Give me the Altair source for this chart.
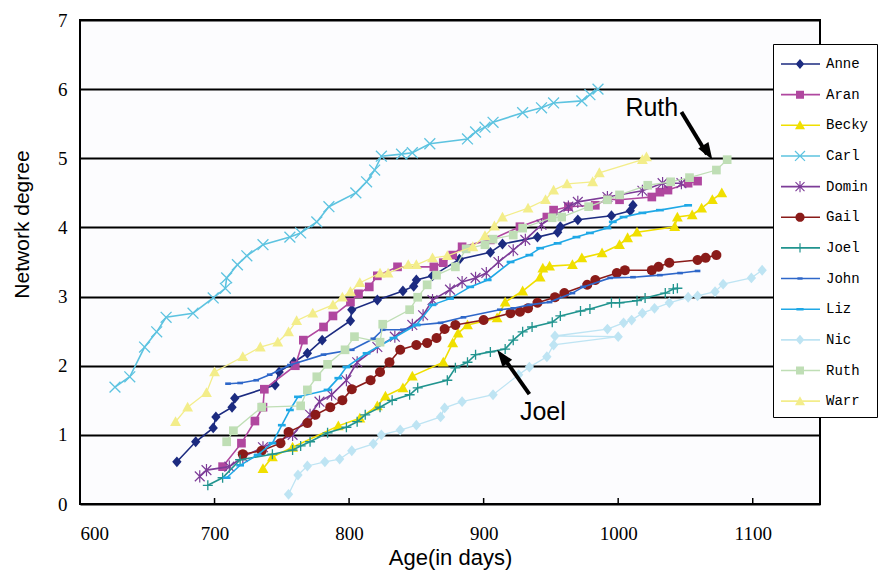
import math
import altair as alt
import pandas as pd

# ---------------- data ----------------
names = ["Anne", "Aran", "Becky", "Carl", "Domin", "Gail", "Joel", "John", "Liz", "Nic", "Ruth", "Warr"]
colors = ["#1C2B80", "#B0479F", "#F0DF00", "#5DC3E0", "#7D3C98", "#8A1B19",
          "#21948F", "#2E67C9", "#1FA8E6", "#BEE4F3", "#BFDEB5", "#F3ED8A"]

anne_x = [672, 686, 699, 701, 713, 715, 745, 748, 759, 769, 780, 801, 802, 821, 840, 848, 850, 862, 882, 905, 914, 940, 955, 957, 970, 995, 1009, 1011]
anne_y = [0.61, 0.90, 1.10, 1.26, 1.40, 1.53, 1.72, 1.91, 2.05, 2.18, 2.37, 2.65, 2.81, 2.95, 3.08, 3.15, 3.24, 3.30, 3.54, 3.64, 3.76, 3.86, 3.93, 4.01, 4.11, 4.17, 4.24, 4.32]

aran_x = [706, 720, 730, 736, 737, 760, 766, 781, 788, 801, 807, 815, 821, 836, 863, 870, 877, 884, 905, 927, 947, 952, 963, 983, 992, 1001, 1025, 1031, 1037, 1052, 1059]
aran_y = [0.54, 0.88, 1.20, 1.40, 1.66, 2.00, 2.37, 2.56, 2.72, 2.92, 3.04, 3.14, 3.30, 3.43, 3.43, 3.49, 3.60, 3.72, 3.82, 4.01, 4.15, 4.25, 4.30, 4.32, 4.41, 4.40, 4.44, 4.51, 4.54, 4.64, 4.67]

becky_x = [736, 743, 758, 792, 808, 821, 827, 840, 847, 870, 877, 881, 888, 910, 916, 929, 942, 944, 949, 966, 973, 988, 1001, 1007, 1014, 1042, 1044, 1055, 1062, 1070, 1077]
becky_y = [0.51, 0.68, 0.82, 1.13, 1.24, 1.42, 1.56, 1.68, 1.85, 2.05, 2.33, 2.47, 2.59, 2.69, 2.92, 3.08, 3.28, 3.41, 3.44, 3.46, 3.56, 3.63, 3.75, 3.85, 3.93, 4.01, 4.15, 4.18, 4.28, 4.40, 4.50]

carl_x = [626, 637, 648, 657, 664, 684, 699, 708, 709, 717, 724, 736, 756, 764, 776, 785, 805, 813, 819, 824, 839, 847, 860, 888, 894, 901, 907, 929, 943, 952, 973, 979, 985]
carl_y = [1.69, 1.84, 2.27, 2.49, 2.70, 2.76, 2.98, 3.12, 3.27, 3.46, 3.59, 3.75, 3.86, 3.92, 4.08, 4.30, 4.50, 4.66, 4.83, 5.03, 5.06, 5.08, 5.21, 5.28, 5.38, 5.45, 5.52, 5.66, 5.73, 5.80, 5.83, 5.92, 6.00]

domin_x = [689, 694, 711, 721, 736, 758, 771, 778, 787, 798, 806, 821, 834, 847, 855, 862, 875, 884, 894, 902, 911, 922, 931, 943, 963, 970, 992, 1018, 1033, 1047]
domin_y = [0.40, 0.49, 0.54, 0.68, 0.82, 1.00, 1.29, 1.48, 1.58, 1.79, 2.05, 2.27, 2.42, 2.59, 2.73, 2.95, 3.10, 3.21, 3.27, 3.34, 3.50, 3.67, 3.82, 4.04, 4.30, 4.37, 4.44, 4.53, 4.64, 4.64]

gail_x = [721, 735, 749, 755, 769, 775, 786, 795, 802, 816, 823, 830, 838, 850, 858, 865, 871, 879, 900, 920, 927, 933, 940, 953, 960, 977, 983, 999, 1005, 1025, 1030, 1038, 1059, 1065, 1073]
gail_y = [0.72, 0.77, 0.88, 1.04, 1.17, 1.29, 1.40, 1.50, 1.66, 1.79, 1.91, 2.05, 2.23, 2.30, 2.33, 2.40, 2.53, 2.59, 2.66, 2.76, 2.78, 2.83, 2.91, 2.99, 3.05, 3.17, 3.24, 3.34, 3.38, 3.38, 3.43, 3.49, 3.53, 3.56, 3.60]

joel_x = [695, 706, 719, 743, 758, 764, 771, 784, 798, 806, 812, 823, 832, 845, 851, 873, 879, 888, 894, 905, 916, 922, 929, 936, 951, 957, 972, 979, 995, 1001, 1014, 1020, 1035, 1041, 1044]
joel_y = [0.27, 0.38, 0.64, 0.72, 0.78, 0.84, 0.90, 1.03, 1.11, 1.19, 1.29, 1.40, 1.50, 1.58, 1.68, 1.79, 1.97, 2.05, 2.16, 2.20, 2.24, 2.37, 2.49, 2.56, 2.63, 2.72, 2.79, 2.82, 2.91, 2.91, 2.94, 2.98, 3.05, 3.11, 3.12]

john_x = [710, 719, 731, 741, 756, 781, 802, 818, 825, 840, 851, 868, 885, 912, 922, 934, 949, 966, 974, 994, 1011, 1031, 1046, 1059]
john_y = [1.74, 1.75, 1.79, 1.87, 2.01, 2.16, 2.23, 2.39, 2.52, 2.52, 2.59, 2.62, 2.70, 2.81, 2.83, 2.88, 2.92, 3.05, 3.14, 3.27, 3.28, 3.31, 3.34, 3.37]

liz_x = [709, 719, 732, 743, 750, 756, 762, 784, 792, 798, 813, 833, 850, 862, 875, 890, 903, 920, 934, 942, 955, 969, 979, 992, 996, 1004, 1018, 1031, 1052]
liz_y = [0.38, 0.56, 0.71, 0.88, 1.14, 1.36, 1.55, 1.65, 1.82, 1.98, 2.18, 2.40, 2.59, 2.88, 2.97, 3.14, 3.24, 3.50, 3.60, 3.70, 3.77, 3.86, 3.92, 3.99, 4.08, 4.15, 4.21, 4.25, 4.32]

nic_x = [755, 762, 769, 782, 793, 802, 818, 824, 838, 850, 868, 871, 884, 907, 926, 934, 947, 952, 1000, 953, 992, 1004, 1010, 1018, 1027, 1038, 1052, 1059, 1072, 1078, 1099, 1107]
nic_y = [0.14, 0.42, 0.55, 0.61, 0.65, 0.77, 0.87, 1.00, 1.07, 1.14, 1.26, 1.39, 1.48, 1.58, 1.87, 1.98, 2.13, 2.30, 2.42, 2.43, 2.53, 2.62, 2.66, 2.76, 2.83, 2.91, 2.99, 3.01, 3.07, 3.18, 3.27, 3.38]

ruth_x = [709, 714, 735, 764, 769, 776, 784, 797, 804, 823, 825, 845, 851, 858, 865, 879, 887, 901, 907, 922, 929, 951, 958, 978, 992, 1001, 1022, 1039, 1053, 1073, 1081]
ruth_y = [0.90, 1.06, 1.40, 1.42, 1.65, 1.84, 2.02, 2.23, 2.42, 2.34, 2.60, 2.81, 2.99, 3.17, 3.31, 3.43, 3.69, 3.75, 3.83, 3.89, 3.99, 4.14, 4.15, 4.30, 4.40, 4.47, 4.61, 4.66, 4.72, 4.83, 4.98]

warr_x = [671, 680, 694, 700, 721, 734, 747, 755, 761, 773, 788, 795, 801, 808, 823, 829, 844, 850, 862, 873, 892, 901, 908, 914, 933, 946, 952, 962, 981, 986, 1018, 1021]
warr_y = [1.19, 1.40, 1.61, 1.91, 2.13, 2.27, 2.34, 2.49, 2.65, 2.76, 2.88, 2.99, 3.07, 3.20, 3.34, 3.34, 3.46, 3.46, 3.56, 3.59, 3.72, 3.88, 4.02, 4.15, 4.28, 4.40, 4.54, 4.63, 4.66, 4.79, 4.98, 5.02]

series_x = [anne_x, aran_x, becky_x, carl_x, domin_x, gail_x, joel_x, john_x, liz_x, nic_x, ruth_x, warr_x]
series_y = [anne_y, aran_y, becky_y, carl_y, domin_y, gail_y, joel_y, john_y, liz_y, nic_y, ruth_y, warr_y]
markers = ["diamond", "square", "triangle", "x", "asterisk", "circle", "plus", "dash_s", "dash_l", "diamond", "square", "triangle"]

x_ticks = [600, 700, 800, 900, 1000, 1100]
y_ticks = [0, 1, 2, 3, 4, 5, 6, 7]

# annotations (data coordinates)
note_text = ["Ruth", "Joel"]
note_x = [1025, 944]
note_y = [5.73, 1.33]
arrow_x1 = [1047, 934]
arrow_y1 = [5.67, 1.59]
arrow_x2 = [1066, 914]
arrow_y2 = [5.06, 2.14]
arrow_tip_x = [1070, 910]
arrow_tip_y = [4.98, 2.23]
arrow_angle = [148, 323]

# ---------------- marker geometry helpers ----------------
def seg(p, q, w):
    dx, dy = q[0] - p[0], q[1] - p[1]
    L = math.hypot(dx, dy)
    nx, ny = dy / L * w, -dx / L * w
    return [(p[0] + nx, p[1] + ny), (q[0] + nx, q[1] + ny), (q[0] - nx, q[1] - ny), (p[0] - nx, p[1] - ny)]


def rect(x0, y0, x1, y1):
    return [(x0, y0), (x1, y0), (x1, y1), (x0, y1)]


def polys_for(kind, cx=0.0, k=1.0):
    if kind == "diamond":
        return [[(cx, -5 * k), (cx + 4.3 * k, 0), (cx, 5 * k), (cx - 4.3 * k, 0)]]
    if kind == "square":
        return [rect(cx - 4 * k, -4 * k, cx + 4 * k, 4 * k)]
    if kind == "triangle":
        return [[(cx, -5 * k), (cx + 5 * k, 4 * k), (cx - 5 * k, 4 * k)]]
    if kind == "circle":
        r = 4.6 * k
        return [[(cx + r * math.cos(2 * math.pi * i / 20), r * math.sin(2 * math.pi * i / 20)) for i in range(20)]]
    if kind == "x":
        a = 5 * k
        return [seg((cx - a, -a), (cx + a, a), 0.6), seg((cx - a, a), (cx + a, -a), 0.6)]
    if kind == "asterisk":
        a = 4.5 * k
        return [seg((cx - a, -a), (cx + a, a), 0.55), seg((cx - a, a), (cx + a, -a), 0.55),
                seg((cx, -5.6 * k), (cx, 5.6 * k), 0.55)]
    if kind == "plus":
        a = 4.6 * k
        return [seg((cx - a, 0), (cx + a, 0), 0.6), seg((cx, -a), (cx, a), 0.6)]
    if kind == "dash_s":
        return [rect(cx - 2.6 * k, -1.2, cx + 2.6 * k, 1.2)]
    if kind == "dash_l":
        return [rect(cx - 3.6 * k, -1.2, cx + 3.6 * k, 1.2)]
    return []


def to_path(polys, unit):
    out = []
    for poly in polys:
        out.append("M" + "L".join(f"{x / unit:.3f},{y / unit:.3f}" for x, y in poly) + "Z")
    return "".join(out)


PLOT_SIZE = 118      # unit = sqrt(size)/2 ~ 5.4 px
LEG_SIZE = 576       # unit = 12 px
plot_paths = [to_path(polys_for(m), 5.0) for m in markers]
legend_paths = [to_path([rect(-12, -0.8, 27, 0.8)] + polys_for(m, cx=7.0), 12.0) for m in markers]

X_SCALE = alt.Scale(domain=[600, 1150], nice=False, zero=False)
Y_SCALE = alt.Scale(domain=[0, 7], nice=False, zero=False)

x_axis = alt.Axis(values=x_ticks, format="d", title="Age(in days)", grid=False, ticks=False, domain=False,
                  labelFont="Liberation Serif", labelFontSize=19, labelColor="black", labelPadding=20,
                  titleFont="Liberation Sans", titleFontSize=22, titleFontWeight="normal",
                  titleColor="black", titlePadding=4)
y_axis = alt.Axis(values=y_ticks, format="d", title="Network degree", grid=True, gridColor="black", gridWidth=2,
                  gridOpacity=1, ticks=False, domain=False, labelFont="Liberation Serif", labelFontSize=19,
                  labelColor="black", labelPadding=13, titleFont="Liberation Sans", titleFontSize=21,
                  titleFontWeight="normal", titleColor="black", titleX=-48, titleY=204)


def X(field):
    return alt.X(field, scale=X_SCALE, axis=x_axis)


def Y(field):
    return alt.Y(field, scale=Y_SCALE, axis=y_axis)


layers = []
for name, col, xs, ys, path in zip(names, colors, series_x, series_y, plot_paths):
    df = pd.DataFrame({"day": xs, "deg": ys, "i": list(range(len(xs)))})
    lw = 1.3 if name in ("Nic", "Ruth", "Warr") else 1.6
    line = alt.Chart(df).mark_line(color=col, strokeWidth=lw).encode(
        x=X("day:Q"), y=Y("deg:Q"), order=alt.Order("i:Q"))
    pts = alt.Chart(df).mark_point(shape=path, filled=True, size=PLOT_SIZE, color=col, opacity=1).encode(
        x=X("day:Q"), y=Y("deg:Q"))
    layers += [line, pts]

# inward ticks on bottom axis
tick_df = pd.DataFrame({"day": x_ticks[1:], "y0": [0] * 5, "y1": [0.087] * 5})
ticks = alt.Chart(tick_df).mark_rule(color="black", strokeWidth=1.5).encode(
    x=X("day:Q"), y=Y("y0:Q"), y2="y1:Q")

# annotation arrows and text
arr_df = pd.DataFrame({"x1": arrow_x1, "y1": arrow_y1, "x2": arrow_x2, "y2": arrow_y2})
arr = alt.Chart(arr_df).mark_rule(color="black", strokeWidth=4).encode(
    x=X("x1:Q"), y=Y("y1:Q"), x2="x2:Q", y2="y2:Q")
head_df = pd.DataFrame({"x": arrow_tip_x, "y": arrow_tip_y, "a": arrow_angle})
head = alt.Chart(head_df).mark_point(shape="M0,0L0.6,1.7L-0.6,1.7Z", filled=True, size=400,
                                     color="black", opacity=1).encode(
    x=X("x:Q"), y=Y("y:Q"), angle=alt.Angle("a:Q", scale=None))
note_df = pd.DataFrame({"x": note_x, "y": note_y, "t": note_text})
notes = alt.Chart(note_df).mark_text(font="Liberation Sans", fontSize=25, color="black").encode(
    x=X("x:Q"), y=Y("y:Q"), text="t:N")

# legend (legend-only layer; its point sits outside the clipped plot area)
leg = alt.Legend(title=None, orient="none", legendX=693, legendY=24, padding=8,
                 strokeColor="black", fillColor="white", symbolSize=LEG_SIZE,
                 labelFont="Liberation Mono", labelFontSize=14, labelColor="black",
                 labelOffset=21, rowPadding=11.65, symbolStrokeWidth=0, symbolOpacity=1,
                 labelLimit=0, symbolLimit=0)
leg_df = pd.DataFrame({"name": names, "day": [2000] * 12, "deg": [3] * 12})
legend_layer = alt.Chart(leg_df).mark_point(filled=True, opacity=1, clip=True, size=LEG_SIZE).encode(
    x=X("day:Q"), y=Y("deg:Q"),
    color=alt.Color("name:N", scale=alt.Scale(domain=names, range=colors), legend=leg),
    shape=alt.Shape("name:N", scale=alt.Scale(domain=names, range=legend_paths), legend=leg),
)

chart = alt.layer(*layers, ticks, arr, head, notes, legend_layer).properties(
    width=740, height=484,
    autosize=alt.AutoSizeParams(type="none"),
    padding={"left": 80, "top": 20, "right": 59, "bottom": 71},
    background="white",
).configure_view(stroke="black", strokeWidth=2, fill="#FCFCFE")

chart.save("out.html", embed_options={"renderer": "svg", "actions": False})
